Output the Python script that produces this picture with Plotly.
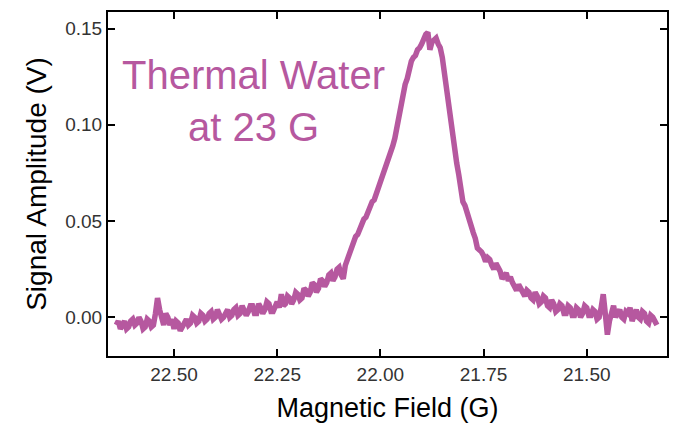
import plotly.graph_objects as go

# Magnetic field sweep (G)
field = [22.640, 22.635, 22.630, 22.625, 22.620, 22.615, 22.610, 22.605, 22.600, 22.595,
         22.590, 22.585, 22.580, 22.575, 22.570, 22.565, 22.560, 22.555, 22.550, 22.545,
         22.540, 22.535, 22.530, 22.525, 22.520, 22.515, 22.510, 22.505, 22.500, 22.495,
         22.490, 22.485, 22.480, 22.475, 22.470, 22.465, 22.460, 22.455, 22.450, 22.445,
         22.440, 22.435, 22.430, 22.425, 22.420, 22.415, 22.410, 22.405, 22.400, 22.395,
         22.390, 22.385, 22.380, 22.375, 22.370, 22.365, 22.360, 22.355, 22.350, 22.345,
         22.340, 22.335, 22.330, 22.325, 22.320, 22.315, 22.310, 22.305, 22.300, 22.295,
         22.290, 22.285, 22.280, 22.275, 22.270, 22.265, 22.260, 22.255, 22.250, 22.245,
         22.240, 22.235, 22.230, 22.225, 22.220, 22.215, 22.210, 22.205, 22.200, 22.195,
         22.190, 22.185, 22.180, 22.175, 22.170, 22.165, 22.160, 22.155, 22.150, 22.145,
         22.140, 22.135, 22.130, 22.125, 22.120, 22.115, 22.110, 22.105, 22.100, 22.095,
         22.090, 22.085, 22.080, 22.075, 22.070, 22.065, 22.060, 22.055, 22.050, 22.045,
         22.040, 22.035, 22.030, 22.025, 22.020, 22.015, 22.010, 22.005, 22.000, 21.995,
         21.990, 21.985, 21.980, 21.975, 21.970, 21.965, 21.960, 21.955, 21.950, 21.945,
         21.940, 21.935, 21.930, 21.925, 21.920, 21.915, 21.910, 21.905, 21.900, 21.895,
         21.890, 21.885, 21.880, 21.875, 21.870, 21.865, 21.860, 21.855, 21.850, 21.845,
         21.840, 21.835, 21.830, 21.825, 21.820, 21.815, 21.810, 21.805, 21.800, 21.795,
         21.790, 21.785, 21.780, 21.775, 21.770, 21.765, 21.760, 21.755, 21.750, 21.745,
         21.740, 21.735, 21.730, 21.725, 21.720, 21.715, 21.710, 21.705, 21.700, 21.695,
         21.690, 21.685, 21.680, 21.675, 21.670, 21.665, 21.660, 21.655, 21.650, 21.645,
         21.640, 21.635, 21.630, 21.625, 21.620, 21.615, 21.610, 21.605, 21.600, 21.595,
         21.590, 21.585, 21.580, 21.575, 21.570, 21.565, 21.560, 21.555, 21.550, 21.545,
         21.540, 21.535, 21.530, 21.525, 21.520, 21.515, 21.510, 21.505, 21.500, 21.495,
         21.490, 21.485, 21.480, 21.475, 21.470, 21.465, 21.460, 21.455, 21.450, 21.445,
         21.440, 21.435, 21.430, 21.425, 21.420, 21.415, 21.410, 21.405, 21.400, 21.395,
         21.390, 21.385, 21.380, 21.375, 21.370, 21.365, 21.360, 21.355, 21.350, 21.345,
         21.340, 21.335, 21.330]

# Signal amplitude (V)
signal = [-0.004, -0.002, -0.006, -0.003, -0.002, -0.006, -0.005, -0.002, -0.001, -0.004,
          -0.003, 0.000, -0.002, -0.006, -0.005, -0.001, -0.002, -0.005, -0.004, 0.002,
          0.010, 0.004, -0.001, -0.004, 0.002, 0.000, -0.004, -0.001, -0.006, -0.002,
          -0.003, -0.007, -0.005, -0.002, -0.001, -0.004, -0.003, 0.001, 0.000, -0.003,
          -0.002, 0.002, 0.001, -0.002, -0.001, 0.002, 0.003, -0.001, 0.000, 0.004,
          0.002, -0.001, 0.000, 0.003, 0.004, 0.000, 0.001, 0.004, 0.005, 0.001,
          0.002, 0.006, 0.004, 0.001, 0.003, 0.006, 0.006, 0.002, 0.002, 0.007,
          0.005, 0.002, 0.004, 0.008, 0.007, 0.003, 0.003, 0.006, 0.008, 0.005,
          0.012, 0.006, 0.007, 0.011, 0.010, 0.007, 0.009, 0.013, 0.012, 0.009,
          0.010, 0.015, 0.014, 0.011, 0.013, 0.018, 0.017, 0.013, 0.015, 0.020,
          0.019, 0.016, 0.018, 0.022, 0.023, 0.019, 0.021, 0.025, 0.026, 0.022,
          0.020, 0.027, 0.030, 0.033, 0.037, 0.039, 0.042, 0.043, 0.046, 0.049,
          0.051, 0.052, 0.055, 0.058, 0.060, 0.061, 0.064, 0.067, 0.069, 0.072,
          0.076, 0.078, 0.082, 0.086, 0.089, 0.093, 0.099, 0.102, 0.107, 0.115,
          0.121, 0.124, 0.130, 0.133, 0.135, 0.136, 0.139, 0.140, 0.142, 0.145,
          0.147, 0.148, 0.139, 0.143, 0.144, 0.145, 0.142, 0.140, 0.135, 0.127,
          0.117, 0.108, 0.100, 0.094, 0.087, 0.080, 0.074, 0.066, 0.060, 0.058,
          0.054, 0.050, 0.047, 0.044, 0.041, 0.036, 0.035, 0.034, 0.032, 0.029,
          0.031, 0.030, 0.027, 0.025, 0.028, 0.026, 0.024, 0.020, 0.022, 0.023,
          0.019, 0.021, 0.018, 0.016, 0.014, 0.017, 0.015, 0.012, 0.011, 0.014,
          0.013, 0.010, 0.009, 0.013, 0.011, 0.007, 0.008, 0.011, 0.010, 0.006,
          0.005, 0.009, 0.007, 0.003, 0.004, 0.007, 0.006, 0.002, 0.002, 0.006,
          0.005, 0.001, 0.001, 0.005, 0.004, 0.000, 0.002, 0.006, 0.005, 0.001,
          0.001, 0.004, 0.003, -0.001, 0.000, 0.005, 0.012, 0.002, -0.009, -0.002,
          0.003, 0.006, 0.000, 0.002, 0.004, 0.000, -0.001, 0.003, 0.002, 0.005,
          -0.002, 0.001, 0.004, 0.000, -0.001, 0.003, 0.002, -0.002, -0.003, 0.001,
          0.000, -0.002, -0.004]

x_ticks = [22.50, 22.25, 22.00, 21.75, 21.50]
y_ticks = [0.00, 0.05, 0.10, 0.15]

color = "#b6589f"
font = "Liberation Sans, Arial, sans-serif"

fig = go.Figure()
fig.add_trace(go.Scatter(x=field, y=signal, mode="lines",
                         line=dict(color=color, width=5.5), showlegend=False))

axis_common = dict(showline=True, linecolor="black", linewidth=2, mirror="ticks",
                   ticks="inside", ticklen=7, tickwidth=2, tickcolor="black",
                   showgrid=False, zeroline=False,
                   tickfont=dict(family=font, size=19, color="#333333"))

fig.update_xaxes(range=[22.66, 21.3055], tickvals=x_ticks, tickformat=".2f",
                 title=dict(text="Magnetic Field (G)", font=dict(family=font, size=27, color="black"),
                            standoff=14),
                 **axis_common)
fig.update_yaxes(range=[-0.0201, 0.1586], tickvals=y_ticks, tickformat=".2f",
                 title=dict(text="Signal Amplitude (V)", font=dict(family=font, size=28, color="black"),
                            standoff=10),
                 **axis_common)

fig.add_annotation(text="Thermal Water<br>at 23 G", xref="paper", yref="paper",
                   x=0.261, y=0.740, xanchor="center", yanchor="middle", showarrow=False,
                   font=dict(family=font, size=40, color=color))

fig.update_layout(width=681, height=428, margin=dict(l=108, r=14, t=10, b=72),
                  plot_bgcolor="white", paper_bgcolor="white")

fig.write_html("out.html")
